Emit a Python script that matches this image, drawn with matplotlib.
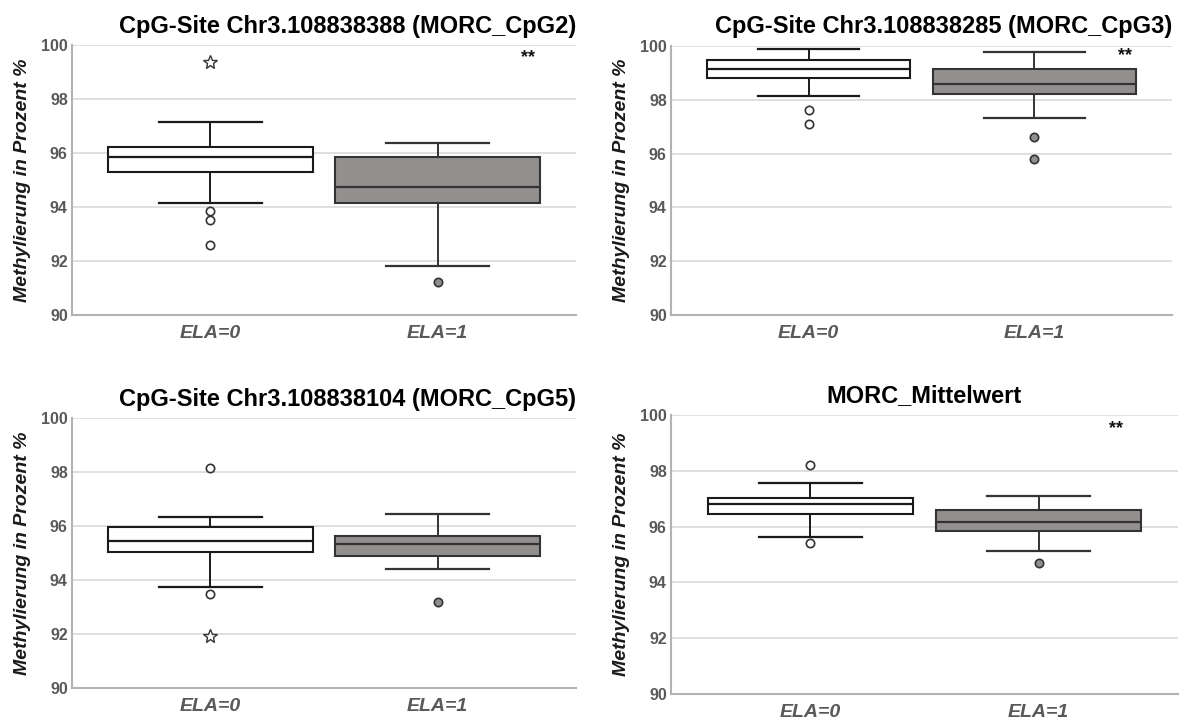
import matplotlib.pyplot as plt

plt.rcParams['font.family'] = ['Liberation Sans', 'DejaVu Sans']

groups = ["ELA=0", "ELA=1"]
titles = ["CpG-Site Chr3.108838388 (MORC_CpG2)",
          "CpG-Site Chr3.108838285 (MORC_CpG3)",
          "CpG-Site Chr3.108838104 (MORC_CpG5)",
          "MORC_Mittelwert"]

# per group: whisker low, Q1, median, Q3, whisker high
cpg2_boxes = [[94.14, 95.28, 95.86, 96.24, 97.14], [91.82, 94.16, 94.75, 95.87, 96.37]]
cpg2_outliers = [[93.85, 93.51, 92.61], [91.23]]
cpg2_extremes = [[99.36], []]

cpg3_boxes = [[98.13, 98.80, 99.13, 99.49, 99.89], [97.34, 98.22, 98.58, 99.15, 99.79]]
cpg3_outliers = [[97.61, 97.09], [96.60, 95.79]]
cpg3_extremes = [[], []]

cpg5_boxes = [[93.73, 95.05, 95.46, 95.96, 96.34], [94.41, 94.90, 95.34, 95.63, 96.44]]
cpg5_outliers = [[98.15, 93.50], [93.19]]
cpg5_extremes = [[91.93], []]

mean_boxes = [[95.64, 96.44, 96.80, 97.03, 97.58], [95.13, 95.84, 96.16, 96.58, 97.10]]
mean_outliers = [[98.22, 95.43], [94.71]]
mean_extremes = [[], []]

signif = ["**", "**", "", "**"]
signif_x = [1.40, 1.40, 1.40, 1.34]
signif_y = [99.55, 99.65, 99.6, 99.5]

panels = [(cpg2_boxes, cpg2_outliers, cpg2_extremes),
          (cpg3_boxes, cpg3_outliers, cpg3_extremes),
          (cpg5_boxes, cpg5_outliers, cpg5_extremes),
          (mean_boxes, mean_outliers, mean_extremes)]

# axes boxes in pixels: left, right, top, bottom
rects = [(72, 576, 45, 315), (671, 1172, 46, 315),
         (72, 576, 418, 688), (671, 1178, 415, 694)]
title_loc = ['right', 'right', 'right', 'center']

W, H = 1183, 720
fig = plt.figure(figsize=(W / 100, H / 100), dpi=100)

face = ['white', '#938f8e']
edge = ['#1a1a1a', '#333333']

for i, (boxes, outs, exts) in enumerate(panels):
    l, r, t, b = rects[i]
    ax = fig.add_axes([l / W, 1 - b / H, (r - l) / W, (b - t) / H])
    stats = []
    for j, bx in enumerate(boxes):
        stats.append({'whislo': bx[0], 'q1': bx[1], 'med': bx[2], 'q3': bx[3],
                      'whishi': bx[4], 'fliers': outs[j], 'label': groups[j]})
    bp = ax.bxp(stats, positions=[0, 1], widths=0.9, capwidths=0.45,
                patch_artist=True, showfliers=True)
    for j in range(2):
        bp['boxes'][j].set(facecolor=face[j], edgecolor=edge[j], linewidth=1.5, zorder=3)
        bp['medians'][j].set(color=edge[j], linewidth=1.6, zorder=4)
        for k in (2 * j, 2 * j + 1):
            bp['whiskers'][k].set(color=edge[j], linewidth=1.4)
            bp['caps'][k].set(color=edge[j], linewidth=1.6)
        bp['fliers'][j].set(marker='o', markersize=6, markerfacecolor=face[j],
                            markeredgecolor='#333333', markeredgewidth=1.2)
        if exts[j]:
            ax.plot([j] * len(exts[j]), exts[j], linestyle='none', marker='*',
                    markersize=10, markerfacecolor='white',
                    markeredgecolor='#333333', markeredgewidth=1.0)

    if signif[i]:
        ax.text(signif_x[i], signif_y[i], signif[i], ha='center', va='center',
                fontsize=13, fontweight='bold', color='#111111')

    ax.set_xlim(-0.61, 1.61)
    ax.set_ylim(90, 100)
    ax.set_yticks([90, 92, 94, 96, 98, 100])
    ax.grid(axis='y', color='#d9d9d9', linewidth=1.2)
    ax.set_axisbelow(True)
    for s in ['top', 'right']:
        ax.spines[s].set_visible(False)
    for s in ['left', 'bottom']:
        ax.spines[s].set_color('#b3b3b3')
        ax.spines[s].set_linewidth(1.5)
    ax.tick_params(length=0)
    ax.tick_params(axis='y', pad=3, labelsize=11.5, labelcolor='#595959')
    ax.tick_params(axis='x', pad=7, labelsize=14, labelcolor='#595959')
    for lab in ax.get_yticklabels():
        lab.set_fontweight('bold')
    ax.set_xticks([0, 1])
    ax.set_xticklabels(groups, fontweight='bold', fontstyle='italic')
    ax.set_ylabel('Methylierung in Prozent %', fontsize=14, fontweight='bold',
                  fontstyle='italic', color='#1a1a1a', labelpad=7)
    ax.set_title(titles[i], loc=title_loc[i], fontsize=17, fontweight='bold',
                 color='black', pad=9)

fig.savefig('out.png', dpi=100)
